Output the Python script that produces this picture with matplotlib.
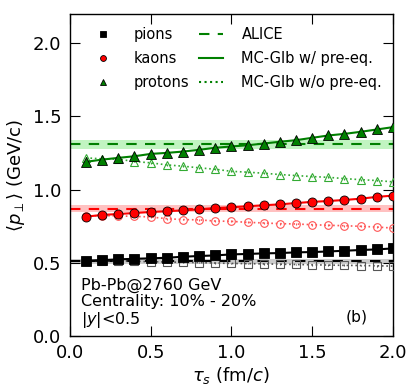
import numpy as np
import matplotlib
matplotlib.use("Agg")
import matplotlib.pyplot as plt

tau = np.round(np.arange(0.1, 2.01, 0.1), 1)

# <p_T> with pre-equilibrium (filled) and without (open)
pion_pre = [0.514, 0.518, 0.523, 0.527, 0.530, 0.534, 0.541, 0.546, 0.550, 0.557,
            0.560, 0.564, 0.566, 0.571, 0.573, 0.577, 0.582, 0.587, 0.591, 0.598]
pion_nopre = [0.515, 0.514, 0.512, 0.510, 0.507, 0.505, 0.503, 0.501, 0.498, 0.495,
              0.494, 0.492, 0.490, 0.488, 0.486, 0.484, 0.482, 0.481, 0.479, 0.477]
kaon_pre = [0.815, 0.827, 0.833, 0.840, 0.847, 0.852, 0.858, 0.865, 0.874, 0.879,
            0.886, 0.893, 0.899, 0.908, 0.916, 0.922, 0.929, 0.938, 0.950, 0.959]
kaon_nopre = [0.820, 0.822, 0.820, 0.817, 0.813, 0.801, 0.795, 0.793, 0.785, 0.783,
              0.776, 0.772, 0.767, 0.765, 0.760, 0.756, 0.753, 0.749, 0.744, 0.737]
proton_pre = [1.190, 1.205, 1.217, 1.228, 1.244, 1.251, 1.260, 1.272, 1.286, 1.295,
              1.303, 1.315, 1.327, 1.338, 1.354, 1.370, 1.381, 1.395, 1.411, 1.427]
proton_nopre = [1.217, 1.210, 1.208, 1.192, 1.183, 1.169, 1.160, 1.149, 1.139, 1.125,
                1.119, 1.112, 1.103, 1.096, 1.089, 1.084, 1.075, 1.068, 1.062, 1.053]
err_nopre = 0.006

# ALICE measurement and uncertainty
alice_mean = [0.509, 0.868, 1.310]
alice_err = [0.016, 0.024, 0.032]

species = ["pions", "kaons", "protons"]
colors = ["black", "red", "green"]
light = ["#555555", "#ff5555", "#33aa33"]
band = ["#aaaaaa", "#ff9999", "#99ee99"]
markers = ["s", "o", "^"]

pre = [pion_pre, kaon_pre, proton_pre]
nopre = [pion_nopre, kaon_nopre, proton_nopre]

fig = plt.figure(figsize=(4.11, 3.91), dpi=100)
ax = fig.add_axes([0.170, 0.141, 0.786, 0.823])

for i in range(3):
    ax.axhspan(alice_mean[i] - alice_err[i], alice_mean[i] + alice_err[i],
               color=band[i], alpha=0.6, lw=0, zorder=1)
    ax.axhline(alice_mean[i], color=colors[i], ls="--", lw=1.5, dashes=(5, 4), zorder=2)
    ax.errorbar(tau, nopre[i], yerr=err_nopre, color=light[i], ls=":", lw=1.2,
                marker=markers[i], ms=5.5, mfc="none", mec=light[i], mew=0.8,
                elinewidth=0.8, capsize=0, zorder=3)
    ax.plot(tau, pre[i], color=colors[i], ls="-", lw=1.5, marker=markers[i], ms=6.5,
            mfc=colors[i], mec="black", mew=0.6, zorder=4)

ax.set_xlim(0, 2.0)
ax.set_ylim(0, 2.2)
ax.set_xticks([0.0, 0.5, 1.0, 1.5, 2.0])
ax.set_yticks([0.0, 0.5, 1.0, 1.5, 2.0])
ax.tick_params(direction="in", length=7, width=0.8, top=True, right=True,
               labelsize=13, pad=6)
for s in ax.spines.values():
    s.set_linewidth(1.0)

ax.set_xlabel(r"$\tau_s$ (fm/$c$)", fontsize=13, labelpad=2)
ax.set_ylabel(r"$\langle p_\perp\rangle$ (GeV/c)", fontsize=13, labelpad=4)

# legend: species markers, then line styles
h = []
for i in range(3):
    h.append(plt.Line2D([], [], ls="none", marker=markers[i], ms=6.5, mfc=colors[i],
                        mec="black", mew=0.6))
h.append(plt.Line2D([], [], color="green", ls="--", lw=1.5, dashes=(5, 4)))
h.append(plt.Line2D([], [], color="green", ls="-", lw=1.5))
h.append(plt.Line2D([], [], color="green", ls=":", lw=1.5))
labels = species + ["ALICE", "MC-Glb w/ pre-eq.", "MC-Glb w/o pre-eq."]
ax.legend(h, labels, ncol=2, frameon=False, fontsize=10.5, markerscale=0.65,
          handlelength=1.6, columnspacing=0.7, handletextpad=1.3,
          labelspacing=0.6, loc="upper left", bbox_to_anchor=(0.025, 1.0))

ax.text(0.035, 0.182, "Pb-Pb@2760 GeV\nCentrality: 10% - 20%\n$|y|$<0.5",
        transform=ax.transAxes, fontsize=11.5, va="top", ha="left", linespacing=1.1)
ax.text(0.923, 0.045, "(b)", transform=ax.transAxes, fontsize=11.2, ha="right",
        va="baseline")

fig.savefig("out.png", dpi=100)
